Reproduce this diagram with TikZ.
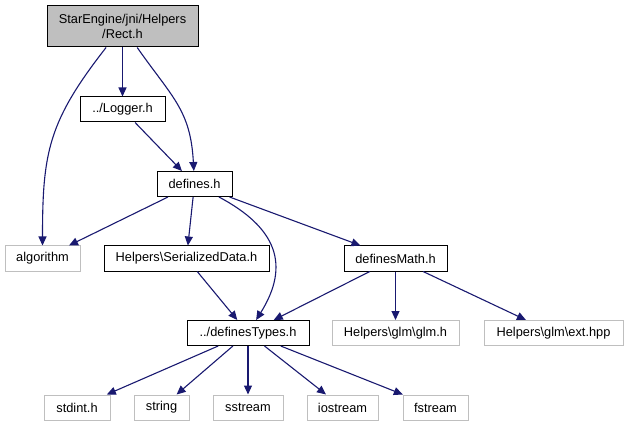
\documentclass[tikz,border=0pt]{standalone}
\usepackage{fontspec}
\setmainfont{Liberation Sans}
\usetikzlibrary{arrows.meta}
\definecolor{EdgeBlue}{RGB}{25,25,112}
\definecolor{LightGray}{RGB}{191,191,191}

\begin{document}
\begin{tikzpicture}[x=1pt, y=1pt,
		file/.style={draw=black, line width=1pt, fill=white, minimum height=25pt, inner sep=0pt, font=\fontsize{12.8}{15}\selectfont},
		sysfile/.style={file, draw=LightGray},
		dep/.style={draw=EdgeBlue, line width=1.1pt, -{Triangle[length=9pt,width=8pt]}}]
			\useasboundingbox (0,0) rectangle (628,-427);
			\node[file, fill=LightGray, minimum width=151pt, minimum height=41pt, align=center] (rect) at (122.5,-26.5) {StarEngine/jni/Helpers\\/Rect.h};
			\node[file, minimum width=85pt] (logger) at (122.5,-109.5) {../Logger.h};
			\node[file, minimum width=75pt] (defines) at (194.5,-184) {defines.h};
			\node[sysfile, minimum width=75pt] (algo) at (42.5,-258.5) {algorithm};
			\node[file, minimum width=165pt] (serial) at (186.5,-258.5) {Helpers\textbackslash SerializedData.h};
			\node[file, minimum width=103pt] (math) at (395.5,-258.5) {definesMath.h};
			\node[file, minimum width=122pt] (types) at (248,-333) {../definesTypes.h};
			\node[sysfile, minimum width=127pt] (glm) at (395.5,-333) {Helpers\textbackslash glm\textbackslash glm.h};
			\node[sysfile, minimum width=139pt] (ext) at (553.5,-333) {Helpers\textbackslash glm\textbackslash ext.hpp};
			\node[sysfile, minimum width=66pt] (stdint) at (77,-407.5) {stdint.h};
			\node[sysfile, minimum width=55pt] (string) at (161.5,-407.5) {string};
			\node[sysfile, minimum width=70pt] (sstream) at (248,-407.5) {sstream};
			\node[sysfile, minimum width=71pt] (iostream) at (342.5,-407.5) {iostream};
			\node[sysfile, minimum width=65pt] (fstream) at (435.5,-407.5) {fstream};
			% includes
			\draw[dep] (rect) to[out=-128, in=90, looseness=1.15] (algo);
			\draw[dep] (rect) -- (logger);
			\draw[dep] (rect) to[out=-55, in=93, looseness=1.15] (defines);
			\draw[dep] (logger) -- (defines);
			\draw[dep] (defines) -- (algo);
			\draw[dep] (defines) -- (serial);
			\draw[dep] (defines) to[out=-28, in=58, looseness=1.3] (types);
			\draw[dep] (defines) -- (math);
			\draw[dep] (serial) -- (types);
			\draw[dep] (math) -- (types);
			\draw[dep] (math) -- (glm);
			\draw[dep] (math) -- (ext);
			\foreach \n in {stdint,string,sstream,iostream,fstream}
				\draw[dep] (types) -- (\n);
		\end{tikzpicture}
\end{document}
